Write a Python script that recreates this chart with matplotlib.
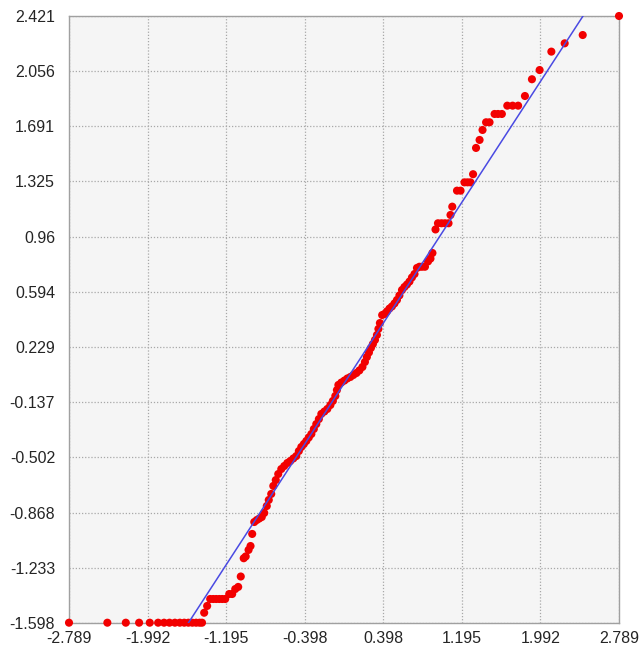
import matplotlib
matplotlib.use("Agg")
import matplotlib.pyplot as plt

# ---- data ----
theoretical_q = [
    -2.789, -2.400, -2.213, -2.078, -1.970, -1.885, -1.825, -1.770, -1.715, -1.665,
    -1.620, -1.578, -1.538, -1.500, -1.465, -1.440,
    -1.418, -1.388, -1.357, -1.326, -1.296, -1.265, -1.235, -1.205, -1.164, -1.134,
    -1.103, -1.073, -1.047, -1.017, -0.997, -0.968, -0.948, -0.931, -0.910, -0.885,
    -0.860, -0.834, -0.809, -0.783, -0.763, -0.738, -0.717, -0.692, -0.667, -0.636,
    -0.606, -0.575, -0.545, -0.514, -0.484, -0.458, -0.433, -0.407, -0.382, -0.357,
    -0.331, -0.306, -0.281, -0.255, -0.230, -0.199, -0.169, -0.138, -0.113, -0.088,
    -0.072, -0.057, -0.027, 0.004, 0.034, 0.065, 0.095, 0.126, 0.156, 0.187,
    0.212, 0.232, 0.253, 0.273, 0.293, 0.314, 0.334, 0.349, 0.364,
    0.387, 0.410, 0.435, 0.461, 0.486, 0.512, 0.537, 0.562, 0.588, 0.613,
    0.638, 0.664, 0.689, 0.715, 0.740, 0.765, 0.791, 0.821, 0.852, 0.877,
    0.897, 0.928, 0.953, 0.989, 1.024, 1.060, 1.080, 1.098, 1.146, 1.182,
    1.222, 1.253, 1.283, 1.309, 1.339, 1.375, 1.405, 1.441, 1.476, 1.527,
    1.562, 1.601, 1.656, 1.710, 1.766, 1.835, 1.906, 1.984, 2.103, 2.238,
    2.421, 2.789,
]
sample_q = [
    -1.598, -1.598, -1.598, -1.598, -1.598, -1.598, -1.598, -1.598, -1.598, -1.598,
    -1.598, -1.598, -1.598, -1.598, -1.598, -1.598,
    -1.532, -1.487, -1.441, -1.441, -1.441, -1.441, -1.441, -1.441, -1.408, -1.408,
    -1.375, -1.361, -1.292, -1.171, -1.159, -1.116, -1.090, -1.010, -0.931, -0.918,
    -0.908, -0.898, -0.871, -0.825, -0.785, -0.745, -0.692, -0.653, -0.613, -0.580,
    -0.560, -0.540, -0.527, -0.510, -0.494, -0.461, -0.434, -0.414, -0.394, -0.371,
    -0.348, -0.315, -0.282, -0.249, -0.215, -0.199, -0.182, -0.156, -0.129, -0.096,
    -0.057, -0.023, -0.007, 0.006, 0.020, 0.030, 0.043, 0.056, 0.073, 0.096,
    0.129, 0.162, 0.192, 0.222, 0.248, 0.275, 0.308, 0.348, 0.387,
    0.440, 0.447, 0.464, 0.483, 0.497, 0.517, 0.540, 0.570, 0.606, 0.626,
    0.642, 0.662, 0.689, 0.712, 0.752, 0.760, 0.760, 0.760, 0.795, 0.814,
    0.851, 1.007, 1.048, 1.048, 1.048, 1.048, 1.103, 1.158, 1.264, 1.264,
    1.319, 1.319, 1.319, 1.373, 1.547, 1.600, 1.666, 1.717, 1.717, 1.772,
    1.772, 1.772, 1.827, 1.827, 1.827, 1.891, 2.002, 2.063, 2.185, 2.240,
    2.295, 2.421,
]
ref_slope = 1.0045
ref_intercept = -0.014

x_ticks = [-2.789, -1.992, -1.195, -0.398, 0.398, 1.195, 1.992, 2.789]
x_tick_labels = ["-2.789", "-1.992", "-1.195", "-0.398", "0.398", "1.195", "1.992", "2.789"]
y_ticks = [-1.598, -1.233, -0.868, -0.502, -0.137, 0.229, 0.594, 0.96, 1.325, 1.691, 2.056, 2.421]
y_tick_labels = ["-1.598", "-1.233", "-0.868", "-0.502", "-0.137", "0.229", "0.594", "0.96",
                 "1.325", "1.691", "2.056", "2.421"]

plt.rcParams['font.family'] = ['Liberation Sans', 'DejaVu Sans']

fig = plt.figure(figsize=(6.40, 6.52), dpi=100)
ax = fig.add_axes([69 / 640, 1 - 622.7 / 652, 550 / 640, 606.7 / 652])
ax.set_facecolor("#F5F5F5")

ax.set_xlim(x_ticks[0], x_ticks[-1])
ax.set_ylim(y_ticks[0], y_ticks[-1])

ax.scatter(theoretical_q, sample_q, s=34, c="#F20000", edgecolors="none", zorder=3,
           clip_on=False)
ax.axline((0, ref_intercept), slope=ref_slope, color="#4A4AE2", linewidth=1.1, zorder=4)

ax.set_xticks(x_ticks)
ax.set_xticklabels(x_tick_labels)
ax.set_yticks(y_ticks)
ax.set_yticklabels(y_tick_labels)
ax.tick_params(axis="both", length=0, labelsize=11.5, colors="#252525")
ax.tick_params(axis="y", pad=10)
ax.tick_params(axis="x", pad=6)

ax.grid(True, color="#A8A8A8", linestyle=(0, (1, 1.5)), linewidth=0.9, zorder=1)
ax.set_axisbelow(True)
for sp in ax.spines.values():
    sp.set_color("#A0A0A0")
    sp.set_linewidth(1.0)

fig.savefig("out.png", dpi=100)
